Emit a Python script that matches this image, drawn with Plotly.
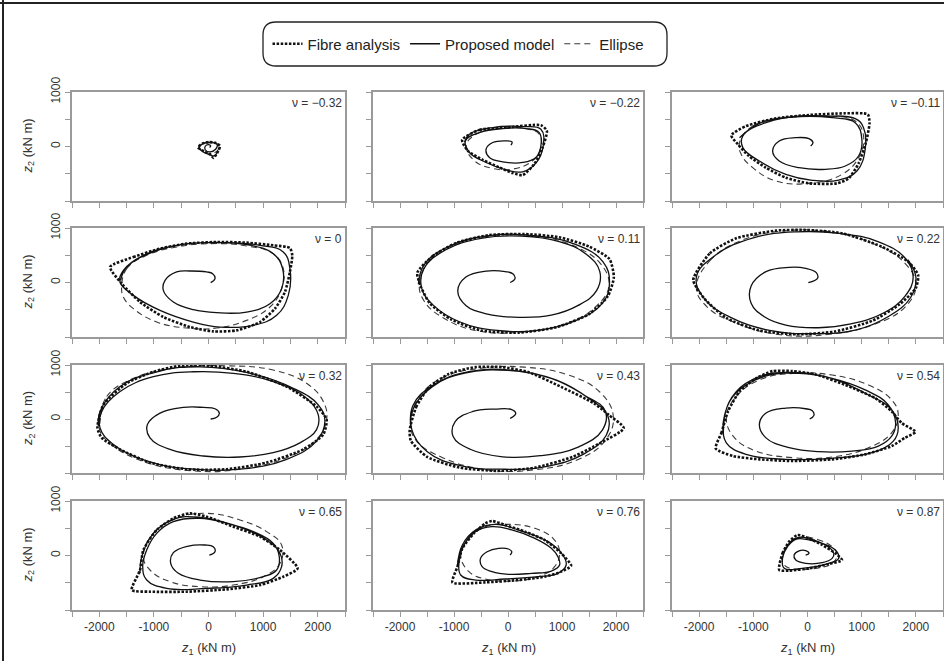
import plotly.graph_objects as go

# ---------------- data (kN m) ----------------
NU_LABELS = ["\u22120.32", "\u22120.22", "\u22120.11", "0", "0.11", "0.22",
             "0.32", "0.43", "0.54", "0.65", "0.76", "0.87"]

X_TICKS = [-2000, -1000, 0, 1000, 2000]
X_TICK_TEXT = ["-2000", "-1000", "0", "1000", "2000"]
X_MINOR = [-2500, -1500, -500, 500, 1500, 2500]
Y_TICKS = [0, 1000]
Y_TICK_TEXT = ["0", "1000"]
Y_MINOR = [-1000, -500, 500]

FIBRE_PTS = [
    [(-190, -20), (-120, 50), (0, 80), (120, 70), (210, 10), (180, -80), (90, -210), (40, -150), (-80, -90)],
    [(-849, 122), (-529, 305), (-37, 348), (609, 390), (720, 287), (640, -18), (486, -323), (271, -525),
     (86, -488), (-160, -384), (-467, -244), (-744, -79)],
    [(-1406, 205), (-1131, 376), (-583, 517), (27, 578), (698, 609), (1113, 590), (1144, 425), (1077, 70),
     (943, -309), (760, -585), (546, -676), (27, -676), (-400, -572), (-766, -389), (-1083, -174), (-1284, 40)],
    [(-1803, 285), (-1376, 468), (-888, 621), (-400, 713), (149, 744), (698, 731), (1186, 682), (1491, 633),
     (1534, 499), (1491, 193), (1400, -174), (1217, -480), (943, -725), (515, -878), (88, -897), (-339, -817),
     (-827, -633), (-1254, -358), (-1589, -21)],
    [(-1680, 180), (-1400, 480), (-950, 730), (-350, 870), (300, 890), (950, 830), (1500, 660), (1880, 430),
     (1960, 100), (1850, -250), (1500, -580), (900, -820), (200, -920), (-500, -880), (-1050, -680),
     (-1450, -380), (-1620, -60)],
    [(-2108, 46), (-1802, 536), (-1315, 811), (-583, 952), (-34, 964), (639, 903), (1370, 658), (1858, 382),
     (2041, 138), (2000, -100), (1700, -400), (1200, -700), (500, -900), (-200, -950), (-900, -880),
     (-1500, -650), (-1900, -300)],
    [(-2034, -165), (-1925, 263), (-1498, 661), (-1010, 875), (-522, 985), (27, 985), (698, 875), (1430, 600),
     (1979, 233), (2163, -12), (2102, -288), (1735, -563), (1064, -808), (332, -930), (-400, -930),
     (-1071, -808), (-1620, -563), (-1956, -349)],
    [(-1820, -202), (-1698, 226), (-1455, 594), (-1089, 838), (-601, 961), (-113, 961), (375, 869), (985, 594),
     (1595, 288), (1870, 73), (2144, -171), (1700, -450), (1200, -700), (500, -900), (-200, -960),
     (-900, -900), (-1500, -700), (-1800, -400)],
    [(-1693, -545), (-1589, -257), (-1467, 141), (-1254, 508), (-949, 753), (-644, 887), (-278, 887),
     (149, 826), (698, 630), (1248, 386), (1553, 141), (1735, -73), (1992, -239), (1796, -349),
     (1552, -502), (1064, -655), (454, -747), (-278, -777), (-888, -747), (-1376, -685)],
    [(-1406, -634), (-1254, -266), (-1193, 101), (-949, 468), (-644, 682), (-339, 774), (-34, 713),
     (454, 529), (943, 346), (1309, 101), (1632, -236), (1370, -389), (943, -542), (332, -621),
     (-400, -664), (-1071, -664)],
    [(-1028, -493), (-936, -205), (-845, 132), (-632, 407), (-418, 591), (-296, 633), (-52, 560), (314, 438),
     (680, 284), (985, 40), (1168, -187), (985, -297), (680, -389), (192, -450), (-418, -493)],
    [(-522, -266), (-461, 40), (-339, 254), (-186, 376), (27, 315), (271, 193), (515, 40), (637, -83),
     (393, -156), (27, -236), (-339, -278)],
]

MODEL_PTS = [
    [(20, -20), (40, 10), (0, 35), (-60, 5), (-60, -60), (30, -100), (130, -50), (160, 30), (60, 70),
     (-90, 55), (-170, -10), (-110, -90), (20, -150), (110, -170), (170, -80)],
    [(55, 24), (74, 85), (-37, 104), (-283, 73), (-406, -49), (-344, -201), (-98, -281), (271, -293),
     (517, -201), (609, 12), (578, 256), (332, 329), (-98, 329), (-529, 256), (-787, 104), (-713, -110),
     (-406, -293), (-37, -427), (271, -464), (517, -305), (652, 12), (609, 317), (271, 366), (-283, 348),
     (-713, 226), (-806, 73)],
    [(58, 9), (101, 70), (27, 144), (-217, 162), (-522, 101), (-644, -83), (-522, -266), (-156, -389),
     (332, -419), (698, -358), (943, -174), (1003, 132), (881, 438), (454, 529), (-156, 548), (-766, 438),
     (-1193, 193), (-1193, -21), (-888, -266), (-400, -511), (88, -621), (576, -615), (912, -450),
     (1064, -52), (1034, 346), (881, 511), (332, 560), (-278, 548), (-888, 425), (-1254, 162)],
    [(40, -3), (119, 70), (76, 162), (-34, 193), (-339, 211), (-583, 193), (-796, 40), (-827, -144),
     (-644, -358), (-278, -499), (149, -554), (698, -542), (1125, -389), (1339, -113), (1357, 254),
     (1186, 529), (698, 695), (27, 731), (-583, 682), (-1193, 499), (-1559, 223), (-1620, 9), (-1376, -236),
     (-888, -511), (-278, -725), (210, -817), (821, -786), (1248, -603), (1461, -236), (1491, 254),
     (1369, 560), (943, 682), (332, 731), (-400, 707), (-1010, 560), (-1498, 285), (-1608, 40)],
    [(40, 0), (130, 70), (90, 160), (-50, 200), (-400, 210), (-780, 100), (-930, -150), (-780, -420),
     (-380, -580), (200, -640), (800, -600), (1300, -420), (1640, -150), (1700, 200), (1450, 520),
     (950, 750), (250, 850), (-500, 810), (-1150, 600), (-1560, 250), (-1600, -100), (-1380, -420),
     (-900, -720), (-200, -880), (550, -880), (1250, -700), (1750, -380), (1880, 0), (1760, 380),
     (1250, 700), (450, 860), (-350, 860), (-1100, 660), (-1550, 330), (-1660, -30)],
    [(15, -3), (186, 77), (162, 181), (-34, 260), (-339, 278), (-766, 199), (-1040, -64), (-1040, -382),
     (-796, -627), (-400, -780), (200, -830), (800, -760), (1400, -560), (1800, -250), (1950, 100),
     (1800, 450), (1300, 750), (600, 900), (-200, 930), (-1000, 820), (-1700, 500), (-2050, 100),
     (-1900, -300), (-1400, -650), (-700, -880), (100, -940), (900, -870), (1500, -620), (1900, -280),
     (2000, 100), (1850, 420)],
    [(40, 0), (149, 31), (198, 110), (119, 190), (-95, 214), (-461, 214), (-888, 110), (-1120, -104),
     (-1071, -349), (-705, -563), (-95, -685), (577, -704), (1186, -624), (1674, -441), (1979, -196),
     (2010, 80), (1796, 386), (1186, 692), (454, 845), (-278, 875), (-1010, 783), (-1620, 508), (-1955, 141),
     (-1986, -165), (-1742, -471), (-1132, -777), (-278, -930), (577, -930), (1430, -747), (1979, -410),
     (2132, -43), (2010, 263), (1552, 569), (698, 863), (-156, 967), (-888, 887), (-1620, 600), (-1986, 141),
     (-2016, -135)],
    [(40, 12), (143, 104), (58, 177), (-235, 184), (-662, 135), (-979, -49), (-1016, -324), (-700, -560),
     (-100, -700), (600, -680), (1300, -520), (1750, -200), (1800, 150), (1400, 450), (800, 750), (0, 900),
     (-800, 850), (-1400, 600), (-1750, 200), (-1780, -200), (-1500, -600), (-900, -860), (-100, -930),
     (700, -880), (1400, -650), (1820, -300), (1850, 50), (1500, 380), (900, 720), (100, 900), (-700, 880),
     (-1400, 620), (-1760, 250), (-1800, -150)],
    [(40, 0), (119, 67), (88, 153), (-34, 190), (-400, 202), (-766, 110), (-888, -104), (-766, -349),
     (-339, -532), (210, -606), (821, -594), (1308, -502), (1553, -318), (1626, -73), (1491, 263),
     (1064, 539), (454, 753), (-156, 845), (-705, 814), (-1132, 630), (-1437, 324), (-1546, -104),
     (-1498, -441), (-1132, -655), (-400, -747), (454, -728), (1186, -624), (1583, -410), (1674, -165),
     (1552, 171), (1064, 477), (332, 783), (-400, 863), (-888, 783), (-1315, 508), (-1528, 80),
     (-1559, -288)],
    [(15, 9), (119, 70), (88, 162), (-64, 193), (-369, 174), (-644, 52), (-692, -144), (-552, -327),
     (-156, -450), (454, -480), (1003, -389), (1248, -266), (1296, -21), (1186, 223), (820, 438),
     (332, 591), (-156, 682), (-644, 621), (-949, 407), (-1132, 101), (-1205, -205), (-1132, -450),
     (-766, -603), (-34, -603), (699, -542), (1186, -419), (1339, -205), (1309, 40), (1064, 285),
     (454, 560), (-156, 701), (-644, 664), (-1010, 407), (-1223, -21), (-1254, -327)],
    [(40, 9), (70, 70), (9, 119), (-174, 132), (-387, 70), (-509, -52), (-479, -205), (-296, -297),
     (9, -346), (436, -327), (802, -285), (955, -174), (924, -21), (802, 132), (497, 315), (70, 468),
     (-296, 529), (-601, 438), (-814, 193), (-906, -113), (-875, -358), (-601, -450), (-52, -431),
     (558, -389), (924, -327), (1077, -174), (1016, 9), (741, 254), (192, 468), (-235, 572), (-601, 468),
     (-845, 193), (-936, -174)],
    [(-34, 9), (27, 40), (-34, 89), (-156, 83), (-247, 9), (-217, -83), (-34, -144), (271, -132),
     (454, -52), (485, 40), (332, 193), (27, 285), (-217, 297), (-369, 162), (-461, -52), (-430, -236),
     (-95, -236), (393, -144), (576, -52), (515, 101), (271, 223), (-156, 334), (-339, 223), (-473, -83)],
]

ELLIPSE_PTS = [
    [(-180, 0), (-100, 60), (30, 80), (160, 50), (190, -30), (120, -110), (-20, -120), (-140, -70)],
    [(-775, 12), (-590, 226), (-160, 329), (332, 329), (578, 226), (609, -18), (455, -262), (86, -415),
     (-283, -403), (-621, -262)],
    [(-1254, 70), (-1010, 376), (-400, 529), (332, 560), (881, 468), (1034, 193), (943, -205), (638, -511),
     (27, -676), (-583, -633), (-1010, -389), (-1223, -144)],
    [(-1589, -52), (-1498, 254), (-1132, 499), (-583, 652), (27, 713), (698, 670), (1186, 529), (1369, 254),
     (1339, -113), (1125, -450), (698, -695), (149, -835), (-400, -835), (-949, -725), (-1376, -480),
     (-1559, -266)],
    [(-1640, 0), (-1450, 400), (-950, 720), (-300, 860), (450, 860), (1150, 700), (1700, 360), (1870, -50),
     (1620, -450), (1050, -760), (250, -910), (-550, -890), (-1180, -660), (-1560, -330)],
    [(-2050, -100), (-1800, 400), (-1200, 780), (-400, 950), (400, 930), (1200, 720), (1800, 350),
     (2000, -50), (1800, -450), (1200, -780), (400, -950), (-500, -960), (-1300, -750), (-1850, -450)],
    [(-1986, -43), (-1864, 416), (-1376, 753), (-583, 949), (332, 985), (1186, 906), (1796, 661), (2102, 324),
     (2163, -12), (1979, -379), (1430, -716), (577, -930), (-278, -961), (-1132, -808), (-1742, -502),
     (-1986, -226)],
    [(-1800, -100), (-1650, 400), (-1200, 770), (-500, 940), (300, 960), (1100, 820), (1700, 500), (1950, 50),
     (1800, -400), (1300, -750), (500, -940), (-400, -940), (-1200, -720), (-1700, -400)],
    [(-1498, 18), (-1315, 416), (-888, 722), (-278, 845), (454, 814), (1125, 630), (1552, 355), (1674, 80),
     (1552, -257), (1125, -532), (454, -704), (-278, -716), (-949, -594), (-1345, -349)],
    [(-1193, -21), (-1010, 407), (-583, 682), (-34, 774), (576, 652), (1064, 438), (1339, 193), (1309, -144),
     (1003, -389), (454, -542), (-156, -572), (-705, -480), (-1071, -266)],
    [(-875, 9), (-723, 315), (-418, 529), (9, 572), (497, 499), (833, 315), (955, 70), (863, -205),
     (558, -389), (70, -468), (-418, -431), (-723, -297)],
    [(-461, -21), (-339, 223), (-95, 334), (210, 285), (454, 162), (546, 9), (454, -144), (149, -236),
     (-217, -254), (-430, -174)],
]

# ---------------- layout geometry ----------------
W, H = 944, 661
COLS_PX = [(72, 345), (373, 643), (672, 943)]
ROWS_PX = [(92, 201), (228, 337), (365, 473), (501, 610)]
FONT = "Liberation Sans, Arial, sans-serif"
AXIS_GREY = "#9a9a9a"


def closed(pts):
    return pts + [pts[0]]


fig = go.Figure()
layout = {}
annotations = []

for i in range(12):
    r, c = divmod(i, 3)
    n = i + 1
    xa = "x" if n == 1 else f"x{n}"
    ya = "y" if n == 1 else f"y{n}"
    xkey = "xaxis" if n == 1 else f"xaxis{n}"
    ykey = "yaxis" if n == 1 else f"yaxis{n}"

    fp = closed(FIBRE_PTS[i])
    mp = MODEL_PTS[i]
    ep = closed(ELLIPSE_PTS[i])

    fig.add_trace(go.Scatter(
        x=[p[0] for p in ep], y=[p[1] for p in ep], xaxis=xa, yaxis=ya, mode="lines",
        line=dict(color="#3a3a3a", width=1.1, dash="6px,4px", shape="spline", smoothing=1.2),
        name="Ellipse", legendgroup="e", showlegend=(i == 0), legendrank=3, hoverinfo="skip"))
    fig.add_trace(go.Scatter(
        x=[p[0] for p in mp], y=[p[1] for p in mp], xaxis=xa, yaxis=ya, mode="lines",
        line=dict(color="#111111", width=1.3, shape="spline", smoothing=1.2),
        name="Proposed model", legendgroup="m", showlegend=(i == 0), legendrank=2, hoverinfo="skip"))
    fig.add_trace(go.Scatter(
        x=[p[0] for p in fp], y=[p[1] for p in fp], xaxis=xa, yaxis=ya, mode="lines",
        line=dict(color="#111111", width=2.6, dash="2.5px,1.6px", shape="spline", smoothing=0.6),
        name="Fibre analysis", legendgroup="f", showlegend=(i == 0), legendrank=1, hoverinfo="skip"))

    x0, x1 = COLS_PX[c]
    y0, y1 = ROWS_PX[r]
    minor_style = dict(ticks="outside", ticklen=5, tickwidth=1.2, tickcolor=AXIS_GREY)
    layout[xkey] = dict(
        domain=[x0 / W, x1 / W], range=[-2500, 2500], anchor=ya, automargin=False,
        showline=True, mirror=True, linecolor=AXIS_GREY, linewidth=1.6,
        ticks="outside", ticklen=5, tickwidth=1.2, tickcolor=AXIS_GREY,
        tickvals=X_TICKS, ticktext=X_TICK_TEXT, showticklabels=(r == 3),
        minor=dict(tickvals=X_MINOR, **minor_style),
        tickfont=dict(family=FONT, size=12, color="#333333"),
        showgrid=False, zeroline=False, fixedrange=True)
    layout[ykey] = dict(
        domain=[1 - y1 / H, 1 - y0 / H], range=[-1000, 1000], anchor=xa, automargin=False,
        showline=True, mirror=True, linecolor=AXIS_GREY, linewidth=1.6,
        ticks="outside", ticklen=5, tickwidth=1.2, tickcolor=AXIS_GREY,
        tickvals=Y_TICKS, ticktext=Y_TICK_TEXT, showticklabels=(c == 0), tickangle=-90,
        minor=dict(tickvals=Y_MINOR, **minor_style),
        tickfont=dict(family=FONT, size=12, color="#333333"),
        showgrid=False, zeroline=False, fixedrange=True)

    annotations.append(dict(
        text=f"\u03bd = {NU_LABELS[i]}", xref=f"{xa} domain", yref=f"{ya} domain",
        x=0.995, y=0.985, xanchor="right", yanchor="top", showarrow=False,
        font=dict(family=FONT, size=12, color="#333333")))

    if c == 0:
        annotations.append(dict(
            text="<i>z</i><sub>2</sub> (kN m)", xref="paper", yref="paper",
            x=28 / W, y=1 - (y0 + y1) / 2 / H, textangle=-90, showarrow=False,
            xanchor="center", yanchor="middle",
            font=dict(family=FONT, size=13, color="#333333")))
    if r == 3:
        annotations.append(dict(
            text="<i>z</i><sub>1</sub> (kN m)", xref="paper", yref="paper",
            x=(x0 + x1) / 2 / W, y=1 - 648 / H, showarrow=False,
            xanchor="center", yanchor="middle",
            font=dict(family=FONT, size=13, color="#333333")))

# rounded legend frame (pixels -> paper)
lx0, lx1, ly0, ly1, rad = 263, 667, 22, 66, 13
def px(x): return x / W
def py(y): return 1 - y / H
legend_path = (
    f"M {px(lx0 + rad)},{py(ly0)} L {px(lx1 - rad)},{py(ly0)} "
    f"Q {px(lx1)},{py(ly0)} {px(lx1)},{py(ly0 + rad)} L {px(lx1)},{py(ly1 - rad)} "
    f"Q {px(lx1)},{py(ly1)} {px(lx1 - rad)},{py(ly1)} L {px(lx0 + rad)},{py(ly1)} "
    f"Q {px(lx0)},{py(ly1)} {px(lx0)},{py(ly1 - rad)} L {px(lx0)},{py(ly0 + rad)} "
    f"Q {px(lx0)},{py(ly0)} {px(lx0 + rad)},{py(ly0)} Z")

shapes = [
    dict(type="path", xref="paper", yref="paper", path=legend_path,
         line=dict(color="#222222", width=1.3)),
    dict(type="line", xref="paper", yref="paper", x0=0, x1=1, y0=py(3), y1=py(3),
         line=dict(color="#222222", width=2)),
    dict(type="line", xref="paper", yref="paper", x0=px(3), x1=px(3), y0=0, y1=1,
         line=dict(color="#222222", width=2)),
]

fig.update_layout(
    width=W, height=H, margin=dict(l=0, r=0, t=0, b=0, autoexpand=False),
    paper_bgcolor="white", plot_bgcolor="white",
    font=dict(family=FONT, size=12, color="#333333"),
    showlegend=True,
    legend=dict(orientation="h", x=458 / W, xanchor="center",
                y=py((ly0 + ly1) / 2), yanchor="middle",
                bgcolor="rgba(0,0,0,0)", borderwidth=0,
                font=dict(family=FONT, size=15, color="#222222"),
                traceorder="normal", itemclick=False, itemdoubleclick=False),
    annotations=annotations, shapes=shapes,
    **layout)

fig.write_html("out.html")
